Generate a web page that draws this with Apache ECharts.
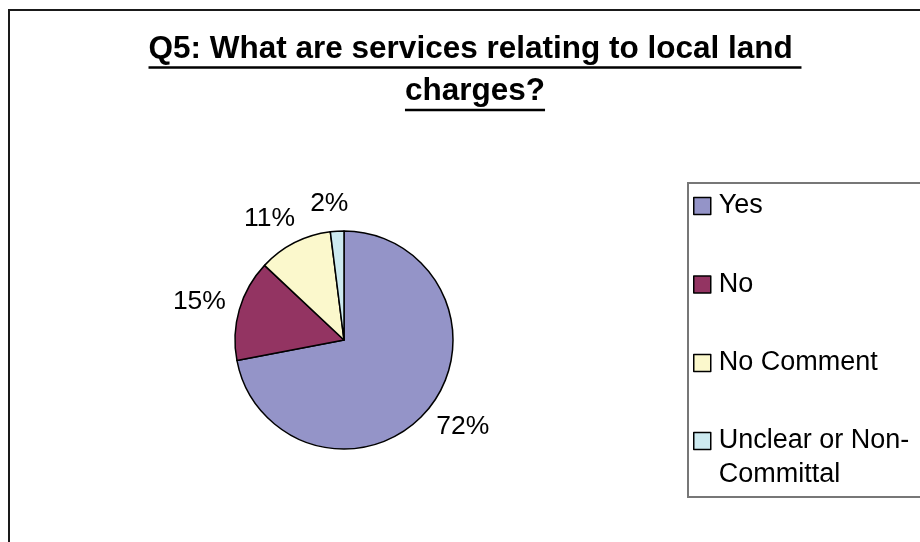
<!DOCTYPE html>
<html>
<head>
<meta charset="utf-8">
<script src="https://cdn.jsdelivr.net/npm/echarts@6/dist/echarts.min.js"></script>
<style>html,body{margin:0;padding:0;background:#fff}#c{width:920px;height:542px}</style>
</head>
<body>
<div id="c"></div>
<script>
const titleLines = ['Q5: What are services relating to local land ', 'charges?'];
const categories = ['Yes', 'No', 'No Comment', 'Unclear or Non-Committal'];
const legendLabels = ['Yes', 'No', 'No Comment', 'Unclear or Non-\nCommittal'];
const values = [72, 15, 11, 2];
const colors = ['#9494c8', '#933462', '#fbf8cc', '#cdeaf0'];

const font = 'Arial, "Liberation Sans", sans-serif';
const titleFont = 'bold 31.5px ' + font;
const titleCenterX = 475;
const titleY = [49, 91];
const underlineY = [67.5, 110];

const ctx = document.createElement('canvas').getContext('2d');
ctx.font = titleFont;
const titleWidths = titleLines.map(t => ctx.measureText(t).width);

const chart = echarts.init(document.getElementById('c'), null, {renderer: 'canvas'});
const legendText = {fontFamily: font, fontSize: 27, color: '#000', lineHeight: 34, padding: [0, 0, 0, 3]};
const legendCommon = {
  orient: 'vertical',
  left: 688,
  itemWidth: 17,
  itemHeight: 17,
  itemGap: 44.5,
  icon: 'rect',
  itemStyle: {borderColor: '#000', borderWidth: 1.5},
  textStyle: legendText,
  formatter: name => legendLabels[categories.indexOf(name)]
};
const graphics = [
  {type: 'rect', silent: true, shape: {x: 9, y: 10, width: 1000, height: 700}, style: {fill: 'none', stroke: '#1a1a1a', lineWidth: 2}}
];
titleLines.forEach((t, i) => {
  graphics.push({type: 'text', silent: true, x: titleCenterX, y: titleY[i],
    style: {text: t, font: titleFont, fill: '#000', align: 'center', verticalAlign: 'middle'}});
  graphics.push({type: 'line', silent: true,
    shape: {x1: titleCenterX - titleWidths[i] / 2, y1: underlineY[i], x2: titleCenterX + titleWidths[i] / 2, y2: underlineY[i]},
    style: {stroke: '#000', lineWidth: 2.5}});
});

chart.setOption({
  backgroundColor: '#fff',
  animation: false,
  graphic: graphics,
  legend: [
    Object.assign({}, legendCommon, {
      top: 183,
      padding: [6, 80, 117, 5],
      borderColor: '#777',
      borderWidth: 2,
      data: categories.slice(0, 3)
    }),
    Object.assign({}, legendCommon, {
      top: 390,
      padding: [0, 0, 0, 5],
      data: categories.slice(3),
      formatter: name => '\n' + legendLabels[categories.indexOf(name)]
    })
  ],
  series: [{
    type: 'pie',
    center: [344, 340],
    radius: 109,
    startAngle: 90,
    clockwise: true,
    avoidLabelOverlap: false,
    label: {show: true, position: 'outside', formatter: p => p.value + '%', fontFamily: font, fontSize: 26.5, color: '#000', distanceToLabelLine: 5},
    labelLine: {show: false, length: 27.5, length2: -18},
    itemStyle: {borderColor: '#000', borderWidth: 1.5},
    emphasis: {disabled: true},
    data: categories.map((c, i) => ({name: c, value: values[i], itemStyle: {color: colors[i]}}))
  }]
});
</script>
</body>
</html>
